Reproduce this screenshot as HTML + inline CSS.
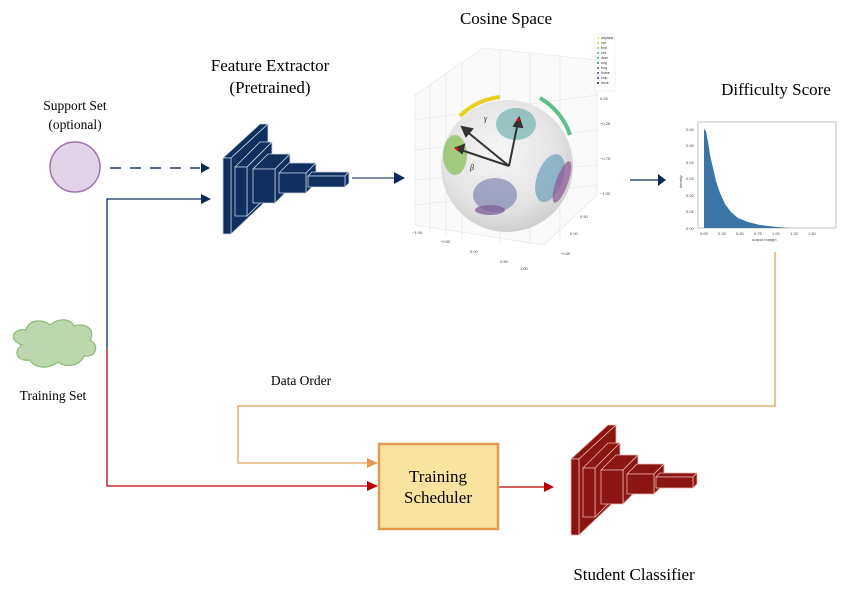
<!DOCTYPE html>
<html><head><meta charset="utf-8"><style>
html,body{margin:0;padding:0;background:#fff;}
svg{display:block;font-family:"Liberation Serif",serif;}
</style></head><body>
<svg width="852" height="595" viewBox="0 0 852 595" xmlns="http://www.w3.org/2000/svg">
<defs>
<radialGradient id="sph" cx="0.45" cy="0.4" r="0.6"><stop offset="0" stop-color="#f6f6f6"/><stop offset="0.7" stop-color="#e4e4e4"/><stop offset="1" stop-color="#d0d0d0"/></radialGradient>
<g id="cnn" stroke-width="0.8" stroke-linejoin="round">
 <polygon points="223,158 260,124 268,124 231,158"/><polygon points="231,158 268,124 268,199 231,234"/><rect x="223" y="158" width="8" height="76"/>
 <polygon points="235,167 260,142 272,142 247,167"/><polygon points="247,167 272,142 272,191 247,216"/><rect x="235" y="167" width="12" height="49"/>
 <polygon points="253,169 268,154 290,154 275,169"/><polygon points="275,169 290,154 290,188 275,203"/><rect x="253" y="169" width="22" height="34"/>
 <polygon points="279,173 289,163 316,163 306,173"/><polygon points="306,173 316,163 316,183 306,193"/><rect x="279" y="173" width="27" height="20"/>
 <polygon points="308,176 312,172 349,172 345,176"/><polygon points="345,176 349,172 349,183 345,187"/><rect x="308" y="176" width="37" height="11"/>
</g>
</defs>

<text x="75" y="110" font-size="13.5" text-anchor="middle">Support Set</text>
<text x="75" y="129" font-size="13.5" text-anchor="middle">(optional)</text>
<text x="270" y="71" font-size="17" text-anchor="middle">Feature Extractor</text>
<text x="270" y="93" font-size="17" text-anchor="middle">(Pretrained)</text>
<text x="506" y="24" font-size="17" text-anchor="middle">Cosine Space</text>
<text x="776" y="95" font-size="17" text-anchor="middle">Difficulty Score</text>
<text x="53" y="400" font-size="13.5" text-anchor="middle">Training Set</text>
<text x="301" y="385" font-size="13.5" text-anchor="middle">Data Order</text>
<text x="634" y="580" font-size="17" text-anchor="middle">Student Classifier</text>

<circle cx="75" cy="167" r="25" fill="#e3d3e8" stroke="#9c76ad" stroke-width="1.5"/>
<path d="M22,345 C8,340 12,328 26,330 C28,320 42,318 50,325 C58,318 70,318 74,326 C86,322 96,330 90,340 C100,345 96,358 84,356 C80,366 66,368 58,362 C48,370 34,368 30,360 C18,362 12,352 22,345 Z" fill="#bcd7ad" stroke="#8fb878" stroke-width="1.2"/>

<line x1="110" y1="168" x2="200" y2="168" stroke="#1f3864" stroke-width="1.5" stroke-dasharray="11,9"/>
<polygon points="201,163 210,168 201,173" fill="#0c2a5a"/>
<polyline points="107,349 107,199 201,199" fill="none" stroke="#0c2a5a" stroke-width="1.3"/>
<polygon points="201,194 211,199 201,204" fill="#0c2a5a"/>
<polyline points="107,349 107,486 368,486" fill="none" stroke="#c00000" stroke-width="1.3"/>
<polygon points="367,481 378,486 367,491" fill="#c00000"/>
<polyline points="775,252 775,406 238,406 238,463 368,463" fill="none" stroke="#e0a060" stroke-width="1.3"/>
<polygon points="367,458 378,463 367,468" fill="#e39a50"/>
<line x1="498" y1="487" x2="545" y2="487" stroke="#c00000" stroke-width="1.3"/>
<polygon points="544,482 554,487 544,492" fill="#c00000"/>
<line x1="352" y1="178" x2="396" y2="178" stroke="#53698f" stroke-width="1.5"/>
<polygon points="394,172 405,178 394,184" fill="#0c2a5a"/>
<line x1="630" y1="180" x2="660" y2="180" stroke="#0c2a5a" stroke-width="1.3"/>
<polygon points="658,174 666,180 658,186" fill="#0c2a5a"/>

<rect x="379" y="444" width="119" height="85" fill="#fae39f" stroke="#e39a50" stroke-width="2.5"/>
<text x="438" y="482" font-size="17" text-anchor="middle">Training</text>
<text x="438" y="503" font-size="17" text-anchor="middle">Scheduler</text>

<use href="#cnn" fill="#0f2f5e" stroke="#c8d2e2"/>
<use href="#cnn" fill="#8b1510" stroke="#e8b4b0" transform="translate(348,301)"/>

<g stroke="#e2e2e2" stroke-width="0.6" fill="none">
 <polygon points="415,95 483,48 597,60 597,195 544,245 415,225" fill="#fafafa"/>
 <line x1="430" y1="84" x2="430" y2="232"/><line x1="446" y1="74" x2="446" y2="236"/><line x1="462" y1="62" x2="462" y2="240"/>
 <line x1="500" y1="50" x2="500" y2="245"/><line x1="530" y1="52" x2="530" y2="245"/><line x1="560" y1="55" x2="560" y2="240"/>
 <line x1="415" y1="120" x2="597" y2="95"/><line x1="415" y1="150" x2="597" y2="130"/><line x1="415" y1="180" x2="597" y2="165"/><line x1="415" y1="205" x2="597" y2="185"/>
</g>
<g font-family="Liberation Sans,sans-serif" font-size="4" fill="#444">
 <text x="412" y="234">−1.00</text><text x="440" y="243">−0.50</text><text x="470" y="253">0.00</text><text x="500" y="263">0.50</text><text x="520" y="270">1.00</text>
 <text x="600" y="72">0.75</text><text x="600" y="100">0.25</text><text x="600" y="125">−0.25</text><text x="600" y="160">−0.75</text><text x="600" y="195">−1.00</text>
 <text x="580" y="218">0.50</text><text x="570" y="235">0.00</text><text x="560" y="255">−0.50</text>
</g>
<circle cx="507" cy="166" r="66" fill="url(#sph)"/>
<path d="M460,116 A68,68 0 0 1 500,97" stroke="#e8d020" stroke-width="4" fill="none"/>
<path d="M540,98 A66,66 0 0 1 570,135" stroke="#5cc08a" stroke-width="4" fill="none"/>
<ellipse cx="455" cy="155" rx="12" ry="20" fill="#8cbf5a" opacity="0.75"/>
<ellipse cx="516" cy="124" rx="20" ry="16" fill="#5faaa6" opacity="0.6"/>
<ellipse cx="495" cy="195" rx="22" ry="17" fill="#7880aa" opacity="0.65"/>
<ellipse cx="490" cy="210" rx="15" ry="5" fill="#7d5c95" opacity="0.75"/>
<ellipse cx="550" cy="178" rx="13" ry="25" fill="#6aa0b8" opacity="0.7" transform="rotate(20 550 178)"/>
<ellipse cx="562" cy="182" rx="6" ry="22" fill="#8d5c96" opacity="0.75" transform="rotate(20 562 182)"/>
<g stroke="#333" stroke-width="2" fill="#333">
 <line x1="509" y1="166" x2="465" y2="130"/><polygon points="462,127 472,129 466,136"/>
 <line x1="509" y1="166" x2="458" y2="149"/><polygon points="456,148 464,145 462,153"/>
 <line x1="509" y1="166" x2="518" y2="122"/><polygon points="519,118 522,127 514,126"/>
</g>
<circle cx="518" cy="120" r="1.5" fill="red"/><circle cx="457" cy="149" r="1.5" fill="red"/>
<text x="484" y="121" font-size="8" font-style="italic" fill="#223">γ</text>
<text x="470" y="170" font-size="8" font-style="italic" fill="#223">β</text>
<g font-family="Liberation Sans,sans-serif" font-size="3.5" fill="#333">
 <rect x="595" y="34" width="20" height="57" fill="#fff" stroke="#ddd" stroke-width="0.4"/>
 <circle cx="598" cy="38" r="1" fill="#fde725"/><text x="601" y="39">airplane</text>
 <circle cx="598" cy="43" r="1" fill="#b5de2b"/><text x="601" y="44">car</text>
 <circle cx="598" cy="48" r="1" fill="#6ece58"/><text x="601" y="49">bird</text>
 <circle cx="598" cy="53" r="1" fill="#35b779"/><text x="601" y="54">cat</text>
 <circle cx="598" cy="58" r="1" fill="#1f9e89"/><text x="601" y="59">deer</text>
 <circle cx="598" cy="63" r="1" fill="#26828e"/><text x="601" y="64">dog</text>
 <circle cx="598" cy="68" r="1" fill="#31688e"/><text x="601" y="69">frog</text>
 <circle cx="598" cy="73" r="1" fill="#3e4989"/><text x="601" y="74">horse</text>
 <circle cx="598" cy="78" r="1" fill="#482878"/><text x="601" y="79">ship</text>
 <circle cx="598" cy="83" r="1" fill="#440154"/><text x="601" y="84">truck</text>
</g>

<rect x="698" y="122" width="138" height="106" fill="#fff" stroke="#999" stroke-width="0.6"/>
<path d="M704,228 L704,129 L706,131 L708,142 L710,155 L713,168 L716,181 L720,193 L725,204 L731,212 L738,218 L748,222 L760,225 L777,227 L790,228 Z" fill="#3b75a5"/>
<g font-family="Liberation Sans,sans-serif" font-size="4" fill="#444">
 <text x="686" y="131">0.06</text><text x="686" y="147">0.05</text><text x="686" y="164">0.04</text><text x="686" y="180">0.03</text><text x="686" y="197">0.02</text><text x="686" y="213">0.01</text><text x="686" y="230">0.00</text>
 <text x="700" y="235">0.00</text><text x="718" y="235">0.25</text><text x="736" y="235">0.50</text><text x="754" y="235">0.75</text><text x="772" y="235">1.00</text><text x="790" y="235">1.25</text><text x="808" y="235">1.50</text>
 <text x="752" y="241">output margin</text>
 <text x="682" y="188" transform="rotate(-90 682 188)">density</text>
</g>
</svg>
</body></html>
